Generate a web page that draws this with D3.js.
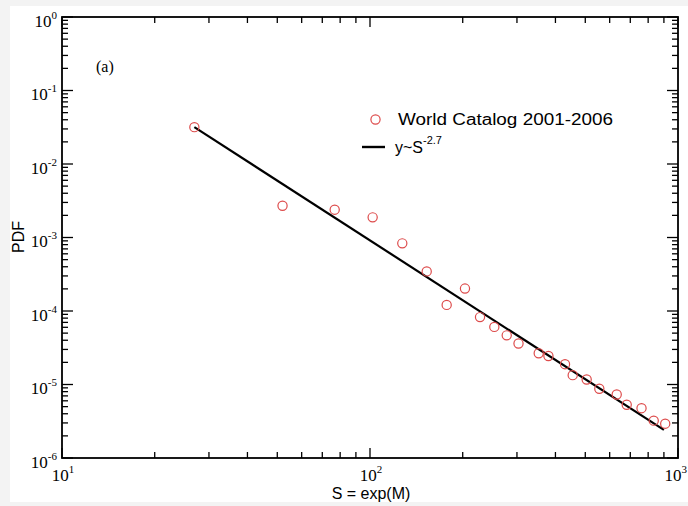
<!DOCTYPE html>
<html><head><meta charset="utf-8">
<script src="https://cdn.jsdelivr.net/npm/d3@7"></script>
<style>body{margin:0;background:#fff} svg{display:block}</style>
</head><body><svg id="c" width="688" height="506"></svg>
<script>
// ---- data ----
const sizeS = [26.9, 52.0, 76.8, 102.0, 127.3, 152.8, 177.4, 203.4, 227.6, 253.3, 277.9, 303.5,
  353.0, 379.6, 429.7, 455.1, 505.2, 555.3, 632.4, 681.5, 761.3, 834.0, 908.8];
const pdfValues = [0.0317, 2.70e-3, 2.39e-3, 1.88e-3, 8.32e-4, 3.46e-4, 1.21e-4, 2.02e-4, 8.26e-5,
  6.08e-5, 4.66e-5, 3.61e-5, 2.66e-5, 2.44e-5, 1.89e-5, 1.34e-5, 1.17e-5, 8.75e-6, 7.31e-6,
  5.30e-6, 4.76e-6, 3.22e-6, 2.93e-6];
const fitS = [26.9, 900];
const fitPDF = [0.0317, 2.41e-6];
const xTickExps = [1, 2, 3];
const yTickExps = [0, -1, -2, -3, -4, -5, -6];
const seriesLabel = "World Catalog 2001-2006";
const fitLabel = "y~S";
const fitExpLabel = "-2.7";
const panelLabel = "(a)";
const xTitle = "S = exp(M)";
const yTitle = "PDF";

// ---- layout ----
const svg = d3.select("#c");
const W = 688, H = 506;
const L = 62, R = 678, T = 17, B = 458;
const x = d3.scaleLog().domain([10, 1000]).range([L, R]);
const y = d3.scaleLog().domain([1e-6, 1]).range([B, T]);
const red = "#dd4b4b";
const serif = "'Liberation Serif','Times New Roman',serif";
const sans = "'Liberation Sans',Arial,Helvetica,sans-serif";

// page background (light grey border of the scan)
svg.append("rect").attr("width", W).attr("height", H).attr("fill", "#f3f3f3");
svg.append("rect").attr("x", 10).attr("y", 6).attr("width", W - 10).attr("height", 496).attr("fill", "#fff");

// ticks (inward on all four sides)
const g = svg.append("g").attr("stroke", "#000").attr("stroke-width", 1.3);
const isMajor = v => Math.abs(Math.log10(v) - Math.round(Math.log10(v))) < 1e-9;
x.ticks().forEach(v => {
  const px = x(v), len = isMajor(v) ? 10 : 6;
  g.append("line").attr("x1", px).attr("x2", px).attr("y1", B).attr("y2", B - len);
  g.append("line").attr("x1", px).attr("x2", px).attr("y1", T).attr("y2", T + len);
});
y.ticks().forEach(v => {
  const py = y(v), len = isMajor(v) ? 11 : 6;
  g.append("line").attr("x1", L).attr("x2", L + len).attr("y1", py).attr("y2", py);
  g.append("line").attr("x1", R).attr("x2", R - len).attr("y1", py).attr("y2", py);
});
// frame
svg.append("rect").attr("x", L).attr("y", T).attr("width", R - L).attr("height", B - T)
  .attr("fill", "none").attr("stroke", "#000").attr("stroke-width", 1.8);

// tick labels
xTickExps.forEach((e, i) => {
  const last = i === xTickExps.length - 1;
  const t = svg.append("text")
    .attr("x", last ? W - 1 : x(Math.pow(10, e)) + 1).attr("y", 481)
    .attr("text-anchor", last ? "end" : "middle")
    .attr("font-family", serif).attr("font-size", 17).attr("fill", "#000");
  t.append("tspan").text("10");
  t.append("tspan").attr("dy", -8).attr("font-size", 11).text(String(e));
});
yTickExps.forEach(e => {
  const t = svg.append("text").attr("x", 57).attr("y", y(Math.pow(10, e)) + 9.5)
    .attr("text-anchor", "end").attr("font-family", serif).attr("font-size", 17).attr("fill", "#000");
  t.append("tspan").text("10");
  t.append("tspan").attr("dy", -8).attr("font-size", 11).text(String(e));
});

// axis titles
svg.append("text").attr("x", 371).attr("y", 499).attr("text-anchor", "middle")
  .attr("font-family", sans).attr("font-size", 16).text(xTitle);
svg.append("text").attr("transform", "translate(24,237) rotate(-90)").attr("text-anchor", "middle")
  .attr("font-family", sans).attr("font-size", 16).text(yTitle);

// panel label
svg.append("text").attr("x", 96).attr("y", 72).attr("font-family", serif).attr("font-size", 16).text(panelLabel);

// fit line
const line = d3.line().x(d => x(d[0])).y(d => y(d[1]));
svg.append("path").datum(fitS.map((s, i) => [s, fitPDF[i]])).attr("d", line)
  .attr("fill", "none").attr("stroke", "#000").attr("stroke-width", 2.2);

// data points
svg.append("g").selectAll("circle").data(sizeS.map((s, i) => [s, pdfValues[i]])).join("circle")
  .attr("cx", d => x(d[0])).attr("cy", d => y(d[1])).attr("r", 4.6)
  .attr("fill", "none").attr("stroke", red).attr("stroke-width", 1.2);

// legend
svg.append("circle").attr("cx", 375.5).attr("cy", 119.5).attr("r", 4.6)
  .attr("fill", "none").attr("stroke", red).attr("stroke-width", 1.2);
svg.append("text").attr("x", 398).attr("y", 125).attr("font-family", sans).attr("font-size", 16)
  .attr("textLength", 215).attr("lengthAdjust", "spacingAndGlyphs").text(seriesLabel);
svg.append("line").attr("x1", 362).attr("x2", 385).attr("y1", 147).attr("y2", 147)
  .attr("stroke", "#000").attr("stroke-width", 2.4);
const ft = svg.append("text").attr("x", 395).attr("y", 153).attr("font-family", sans).attr("font-size", 16);
ft.append("tspan").text(fitLabel);
ft.append("tspan").attr("dy", -9).attr("font-size", 11).text(fitExpLabel);
</script></body></html>
